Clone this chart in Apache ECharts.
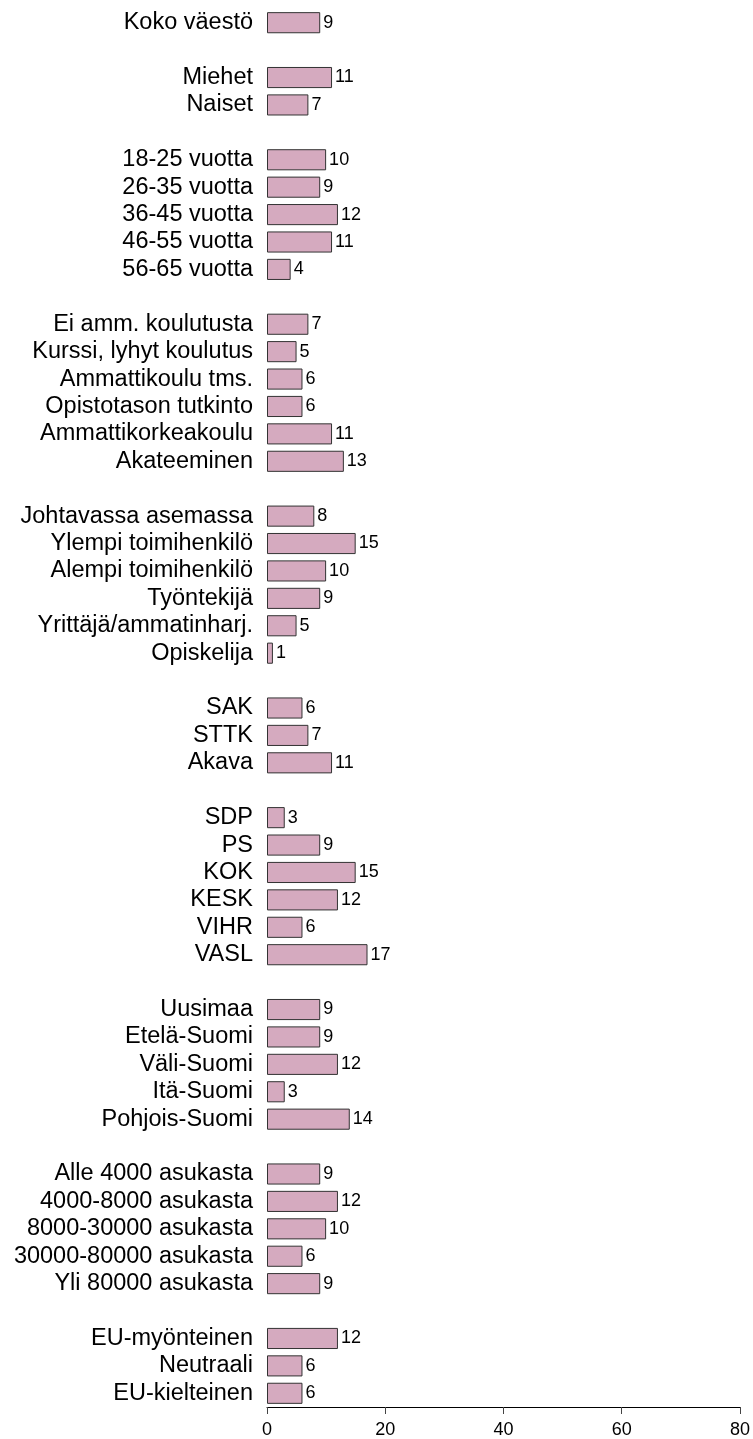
<!DOCTYPE html>
<html>
<head>
<meta charset="utf-8">
<script src="https://cdn.jsdelivr.net/npm/echarts@6/dist/echarts.min.js"></script>
<style>
  html, body { margin: 0; padding: 0; background: #fff; }
  #chart { width: 753px; height: 1439px; }
</style>
</head>
<body>
<div id="chart"></div>
<script>
// empty strings are spacer rows between groups
const categories = [
  'Koko väestö', '',
  'Miehet', 'Naiset', '',
  '18-25 vuotta', '26-35 vuotta', '36-45 vuotta', '46-55 vuotta', '56-65 vuotta', '',
  'Ei amm. koulutusta', 'Kurssi, lyhyt koulutus', 'Ammattikoulu tms.', 'Opistotason tutkinto', 'Ammattikorkeakoulu', 'Akateeminen', '',
  'Johtavassa asemassa', 'Ylempi toimihenkilö', 'Alempi toimihenkilö', 'Työntekijä', 'Yrittäjä/ammatinharj.', 'Opiskelija', '',
  'SAK', 'STTK', 'Akava', '',
  'SDP', 'PS', 'KOK', 'KESK', 'VIHR', 'VASL', '',
  'Uusimaa', 'Etelä-Suomi', 'Väli-Suomi', 'Itä-Suomi', 'Pohjois-Suomi', '',
  'Alle 4000 asukasta', '4000-8000 asukasta', '8000-30000 asukasta', '30000-80000 asukasta', 'Yli 80000 asukasta', '',
  'EU-myönteinen', 'Neutraali', 'EU-kielteinen'
];
const values = [
  9, null,
  11, 7, null,
  10, 9, 12, 11, 4, null,
  7, 5, 6, 6, 11, 13, null,
  8, 15, 10, 9, 5, 1, null,
  6, 7, 11, null,
  3, 9, 15, 12, 6, 17, null,
  9, 9, 12, 3, 14, null,
  9, 12, 10, 6, 9, null,
  12, 6, 6
];
const xTicks = [0, 20, 40, 60, 80];

const chart = echarts.init(document.getElementById('chart'));
chart.setOption({
  animation: false,
  textStyle: { fontFamily: 'Liberation Sans, Arial, sans-serif' },
  grid: { left: 267, right: 12, top: 9, bottom: 31, containLabel: false },
  xAxis: {
    type: 'value',
    min: xTicks[0],
    max: xTicks[xTicks.length - 1],
    interval: 20,
    axisLine: { show: true, lineStyle: { color: '#000', width: 1 } },
    axisTick: { show: true, length: 7, lineStyle: { color: '#444' } },
    axisLabel: { color: '#000', fontSize: 18, margin: 14 },
    splitLine: { show: false }
  },
  yAxis: {
    type: 'category',
    data: categories,
    inverse: true,
    axisLine: { show: false },
    axisTick: { show: false },
    axisLabel: { color: '#000', fontSize: 23.5, margin: 14, interval: 0 }
  },
  series: [{
    type: 'bar',
    data: values.map(v => v === null ? '-' : v),
    barCategoryGap: '23%',
    itemStyle: { color: '#d5aabf', borderColor: '#333', borderWidth: 1 },
    label: {
      show: true,
      position: 'right',
      distance: 3,
      color: '#000',
      fontSize: 18
    }
  }]
});
</script>
</body>
</html>
